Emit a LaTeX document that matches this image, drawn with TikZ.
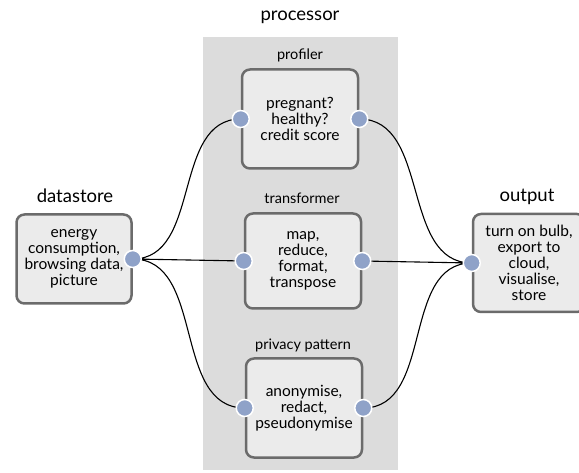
\documentclass[tikz,border=0pt]{standalone}
\usepackage{fontspec}
\setmainfont{Lato}
\definecolor{panelgrey}{HTML}{DCDCDC}
\definecolor{boxfill}{HTML}{EBEBEB}
\definecolor{boxline}{HTML}{6B6B6B}
\definecolor{portblue}{HTML}{8FA2C8}
\tikzset{
  stagebox/.style={draw=boxline,line width=2.5pt,fill=boxfill,rounded corners=8pt,
    align=center,inner sep=1pt,font=\fontsize{15.5}{16}\selectfont},
  port/.style={circle,fill=portblue,draw=white,line width=1.5pt,minimum size=17pt,inner sep=0pt},
  heading/.style={font=\fontsize{18.5}{20}\selectfont},
  sublabel/.style={font=\fontsize{14.5}{16}\selectfont},
  link/.style={line width=1.1pt,black}
}
\begin{document}
\begin{tikzpicture}[x=1pt,y=-1pt]
        \useasboundingbox (0,0) rectangle (579,473);
        \clip (0,0) rectangle (579,473);
        \fill[panelgrey] (203,37) rectangle (398,470); % processor panel
        \node[heading] (proctitle) at (300,17) {processor};
        \node[heading] (dstitle) at (75,196) {datastore};
        \node[heading] (outtitle) at (527,197) {output};
        \node[sublabel] (proflabel) at (300,55) {profiler};
        \node[sublabel] (translabel) at (302,198) {transformer};
        \node[sublabel] (privlabel) at (303,345) {privacy pattern};

        \node[stagebox,minimum width=115pt,minimum height=89pt] (datastore) at (74,259)
          {energy\\ consumption,\\ browsing data,\\ picture};
        \node[stagebox,minimum width=116pt,minimum height=99pt] (profiler) at (300,119)
          {pregnant?\\ healthy?\\ credit score};
        \node[stagebox,minimum width=116pt,minimum height=95pt] (transformer) at (303,261)
          {map,\\ reduce,\\ format,\\ transpose};
        \node[stagebox,minimum width=116pt,minimum height=99pt] (privacy) at (304,408)
          {anonymise,\\ redact,\\ pseudonymise};
        \node[stagebox,minimum width=112pt,minimum height=98pt] (output) at (529,263)
          {turn on bulb,\\ export to\\ cloud,\\ visualise,\\ store};

        % port positions
        \coordinate (dsout) at (datastore.east);
        \coordinate (profin) at (profiler.west);
        \coordinate (profout) at (profiler.east);
        \coordinate (transin) at (transformer.west);
        \coordinate (transout) at (transformer.east);
        \coordinate (privin) at (privacy.west);
        \coordinate (privout) at (privacy.east);
        \coordinate (outin) at (output.west);

        \draw[link] (dsout) to[out=0,in=180] (profin)
                    (dsout) -- (transin)
                    (dsout) to[out=0,in=180] (privin)
                    (profout) to[out=0,in=180] (outin)
                    (transout) -- (outin)
                    (privout) to[out=0,in=180] (outin);

        \foreach \p in {dsout,profin,profout,transin,transout,privin,privout,outin}
          \node[port] at (\p) {};
\end{tikzpicture}
\end{document}
